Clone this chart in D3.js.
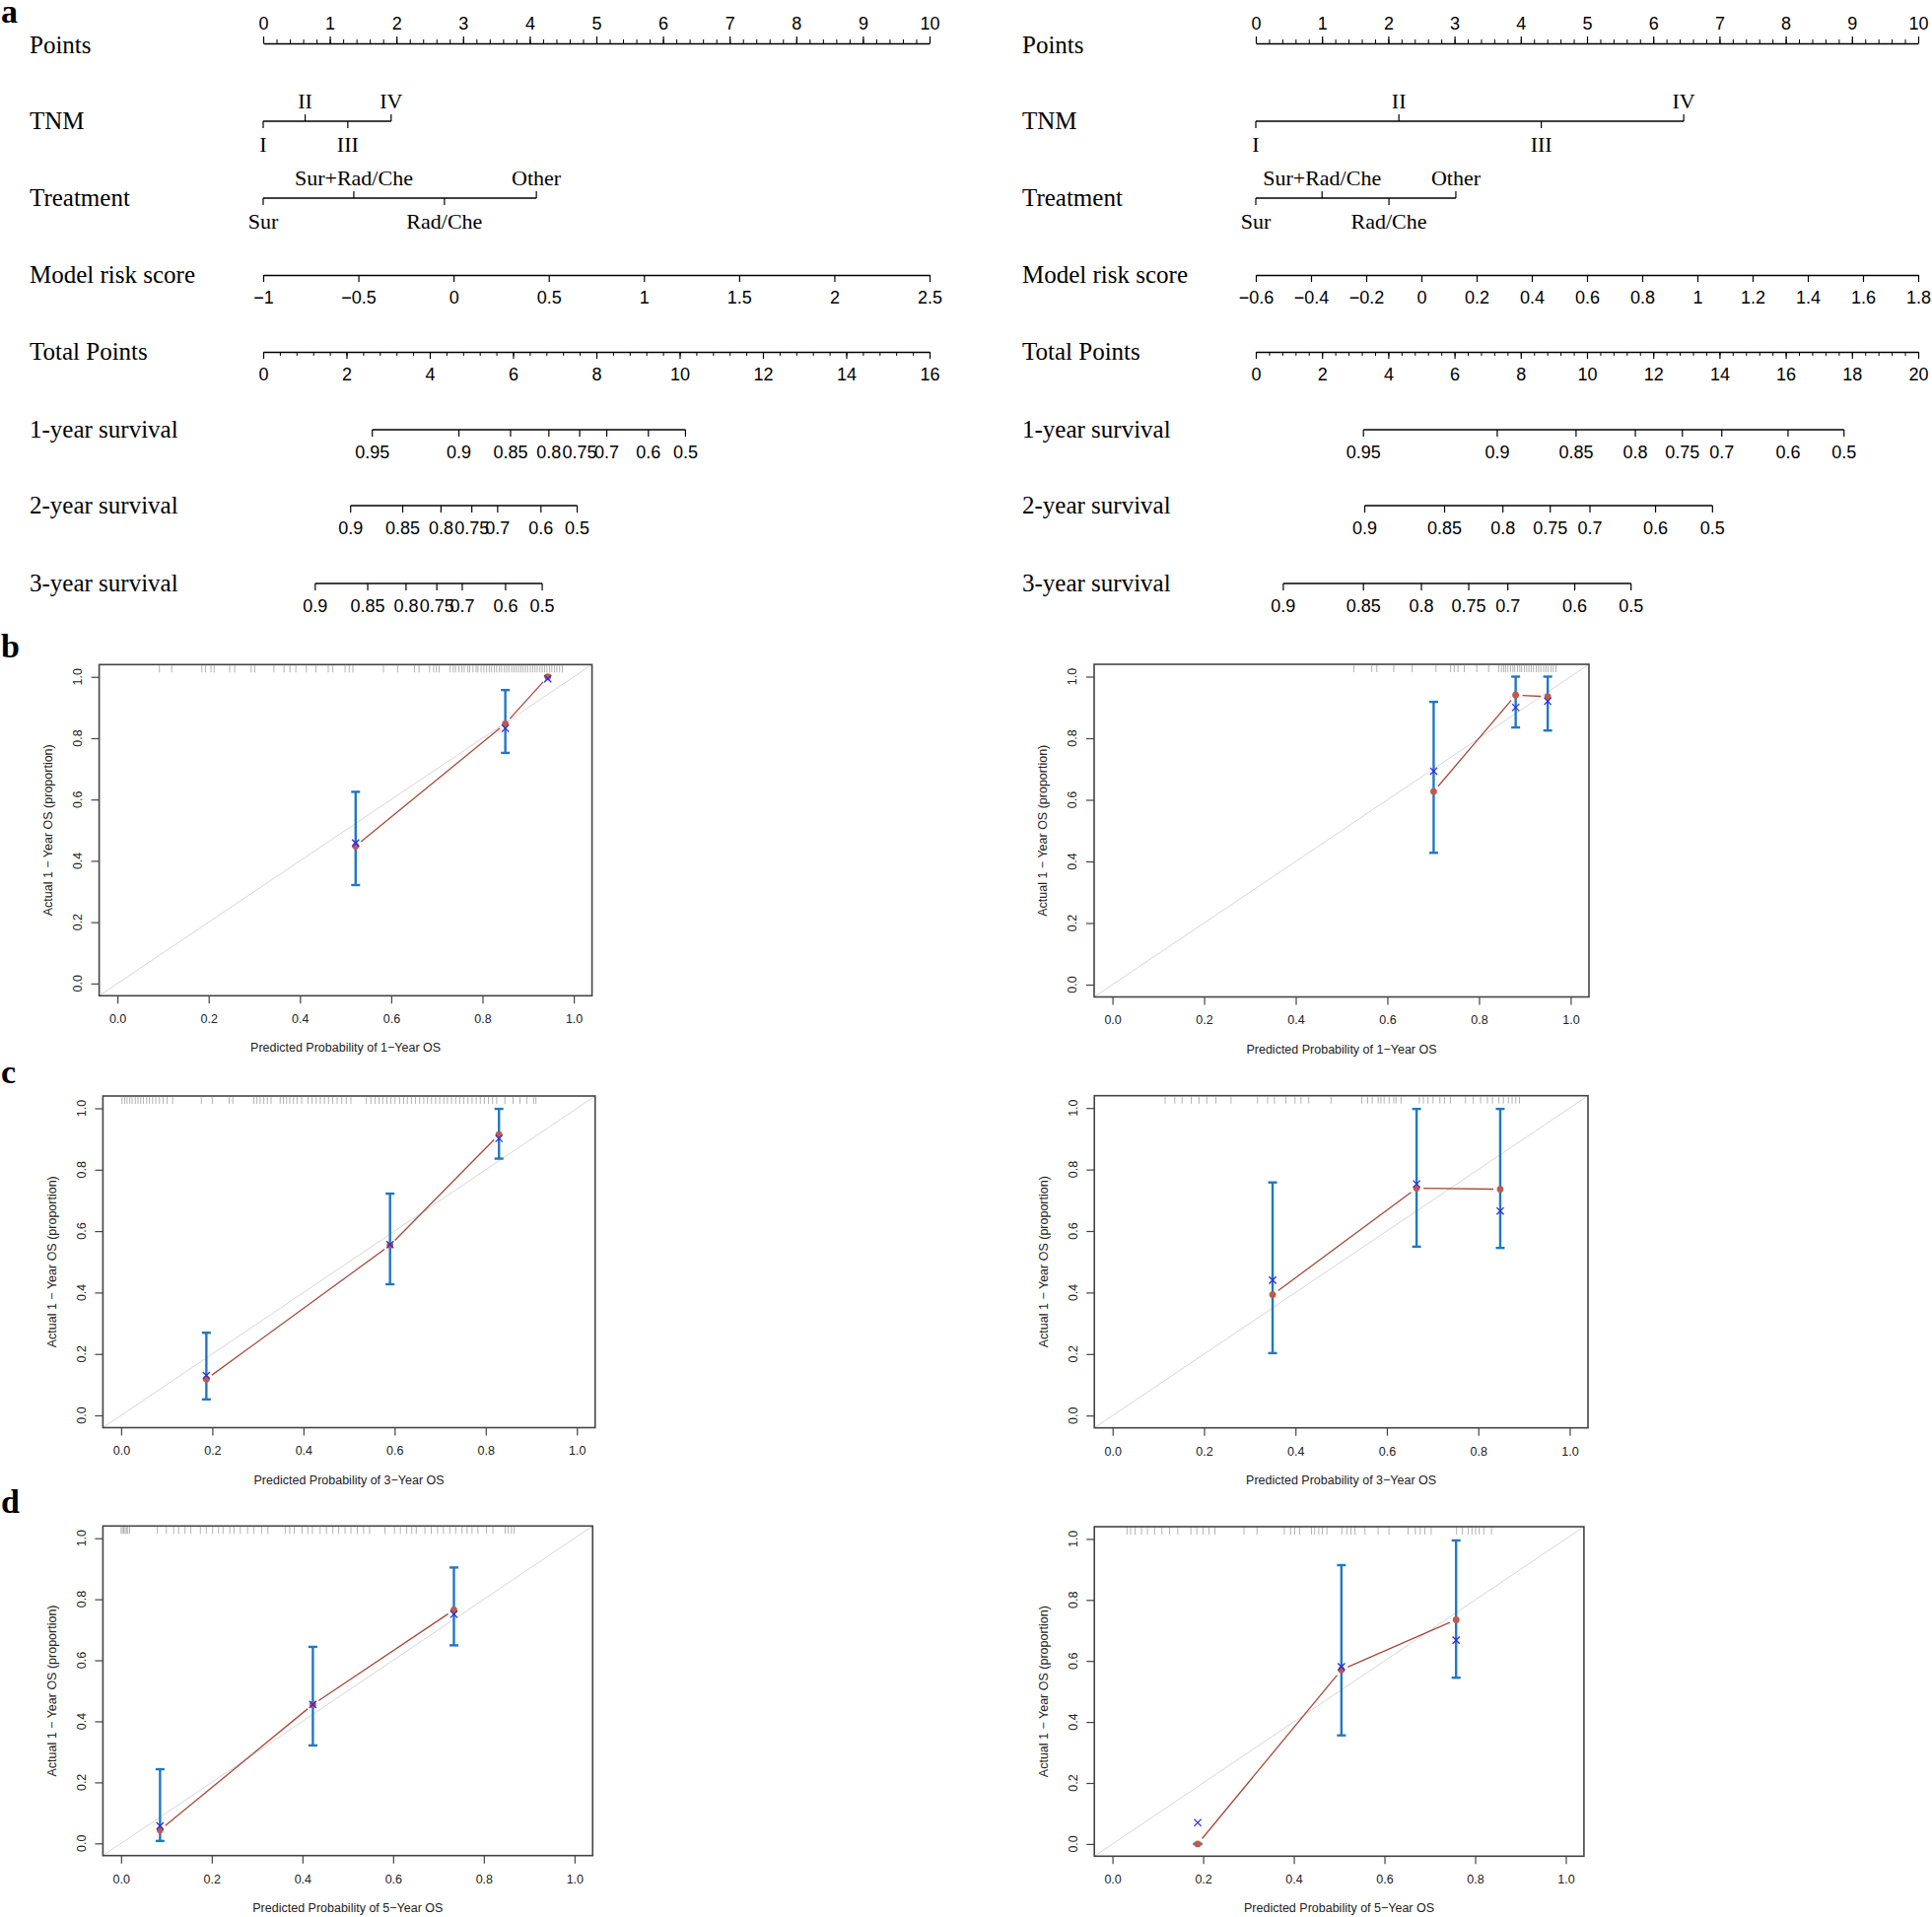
<!DOCTYPE html>
<html><head><meta charset="utf-8">
<script src="https://cdn.jsdelivr.net/npm/d3@7"></script>
<style>body{margin:0;background:#fff}svg{display:block}</style>
</head><body>
<svg id="fig" width="1960" height="1945"></svg>
<script>
// ---------------- Nomogram data ----------------
const pointsTicks = [0,1,2,3,4,5,6,7,8,9,10];
const tnmLevels = ["I","II","III","IV"];
const tnmSide = ["below","above","below","above"];
const treatLevels = ["Sur","Sur+Rad/Che","Rad/Che","Other"];
const treatSide = ["below","above","below","above"];
const survLabels1 = ["0.95","0.9","0.85","0.8","0.75","0.7","0.6","0.5"];
const survLabels23 = ["0.9","0.85","0.8","0.75","0.7","0.6","0.5"];

// left nomogram
const leftTNMPoints = [0,0.63,1.27,1.92];
const leftTreatPoints = [0,1.36,2.72,4.10];
const leftRiskTicks = [-1,-0.5,0,0.5,1,1.5,2,2.5];
const leftRiskLabels = ["\u22121","\u22120.5","0","0.5","1","1.5","2","2.5"];
const leftTotalTicks = [0,2,4,6,8,10,12,14,16];
const leftSurv1 = [2.62,4.70,5.94,6.86,7.60,8.25,9.25,10.14];
const leftSurv2 = [2.10,3.35,4.27,5.01,5.63,6.67,7.54];
const leftSurv3 = [1.25,2.51,3.43,4.17,4.78,5.82,6.70];

// right nomogram
const rightTNMPoints = [0,2.16,4.31,6.46];
const rightTreatPoints = [0,1.00,2.01,3.02];
const rightRiskTicks = [-0.6,-0.4,-0.2,0,0.2,0.4,0.6,0.8,1,1.2,1.4,1.6,1.8];
const rightRiskLabels = ["\u22120.6","\u22120.4","\u22120.2","0","0.2","0.4","0.6","0.8","1","1.2","1.4","1.6","1.8"];
const rightTotalTicks = [0,2,4,6,8,10,12,14,16,18,20];
const rightSurv1 = [3.25,7.29,9.67,11.46,12.88,14.07,16.07,17.76];
const rightSurv2 = [3.29,5.70,7.46,8.89,10.09,12.07,13.79];
const rightSurv3 = [0.83,3.25,5.00,6.43,7.61,9.63,11.33];

// ---------------- Calibration data ----------------
const calTicks = [0,0.2,0.4,0.6,0.8,1.0];
// b: 1-year
const bLPred = [0.522,0.850,0.943], bLObs = [0.448,0.847,1.000], bLCorr = [0.458,0.832,0.994];
const bLLo = [0.321,0.752,null], bLHi = [0.625,0.957,null];
const bRPred = [0.701,0.880,0.950], bRObs = [0.627,0.940,0.935], bRCorr = [0.693,0.900,0.920];
const bRLo = [0.428,0.835,0.825], bRHi = [0.918,1.000,1.000];
// c: 3-year
const cLPred = [0.187,0.590,0.829], cLObs = [0.118,0.554,0.914], cLCorr = [0.130,0.556,0.902];
const cLLo = [0.052,0.427,0.836], cLHi = [0.269,0.722,0.998];
const cRPred = [0.350,0.665,0.848], cRObs = [0.393,0.739,0.736], cRCorr = [0.440,0.753,0.665];
const cRLo = [0.203,0.549,0.545], cRHi = [0.758,0.997,0.997];
// d: 5-year
const dLPred = [0.086,0.423,0.734], dLObs = [0.044,0.455,0.765], dLCorr = [0.057,0.455,0.751];
const dLLo = [0.008,0.321,0.649], dLHi = [0.243,0.644,0.904];
const dRPred = [0.188,0.505,0.758], dRObs = [0.000,0.571,0.735], dRCorr = [0.070,0.581,0.668];
const dRLo = [0.000,0.356,0.545], dRHi = [0.000,0.914,0.995];

// rug (distribution of predicted probabilities)
const rugBL = [0.092,0.119,0.185,0.193,0.205,0.212,0.246,0.257,0.293,0.301,0.343,0.365,0.378,0.391,0.414,0.435,0.462,0.472,0.499,0.508,0.516,0.583,0.614,0.651,0.661,0.684,0.693,0.699,0.705,0.729,0.736,0.741,0.748,0.755,0.760,0.768,0.772,0.779,0.786,0.790,0.797,0.803,0.809,0.815,0.820,0.826,0.831,0.837,0.842,0.848,0.853,0.858,0.864,0.869,0.874,0.879,0.884,0.889,0.894,0.899,0.905,0.910,0.915,0.920,0.926,0.931,0.936,0.941,0.947,0.952,0.958,0.963,0.969,0.975];
const rugBR = [0.527,0.566,0.577,0.614,0.654,0.706,0.738,0.746,0.754,0.768,0.795,0.821,0.843,0.849,0.854,0.858,0.863,0.869,0.874,0.878,0.884,0.889,0.893,0.899,0.904,0.909,0.914,0.919,0.925,0.930,0.935,0.941,0.946,0.951,0.957,0.962,0.968];
const rugCL = [0.002,0.008,0.013,0.019,0.024,0.031,0.037,0.043,0.049,0.056,0.062,0.069,0.076,0.084,0.092,0.101,0.113,0.176,0.200,0.237,0.245,0.291,0.298,0.305,0.313,0.321,0.329,0.349,0.356,0.363,0.370,0.378,0.386,0.396,0.410,0.419,0.428,0.437,0.446,0.455,0.464,0.474,0.484,0.494,0.504,0.538,0.548,0.557,0.566,0.574,0.583,0.592,0.601,0.611,0.620,0.628,0.637,0.646,0.655,0.664,0.672,0.681,0.690,0.699,0.708,0.716,0.725,0.734,0.743,0.752,0.761,0.770,0.779,0.788,0.797,0.806,0.815,0.824,0.842,0.860,0.875,0.890,0.905,0.910];
const rugCR = [0.115,0.136,0.152,0.172,0.189,0.206,0.226,0.259,0.317,0.339,0.354,0.379,0.399,0.412,0.429,0.478,0.545,0.558,0.568,0.581,0.587,0.594,0.605,0.615,0.620,0.631,0.671,0.680,0.690,0.701,0.716,0.726,0.739,0.772,0.789,0.805,0.820,0.831,0.845,0.855,0.866,0.874,0.882,0.890];
const rugDL = [0.000,0.003,0.006,0.009,0.012,0.015,0.019,0.080,0.100,0.116,0.127,0.141,0.154,0.175,0.188,0.202,0.215,0.225,0.240,0.249,0.263,0.279,0.293,0.310,0.324,0.362,0.372,0.382,0.399,0.412,0.422,0.439,0.453,0.467,0.480,0.494,0.507,0.521,0.535,0.548,0.582,0.603,0.616,0.630,0.641,0.651,0.670,0.684,0.698,0.711,0.725,0.738,0.752,0.763,0.774,0.787,0.806,0.820,0.847,0.854,0.861,0.867];
const rugDR = [0.032,0.040,0.050,0.064,0.077,0.093,0.109,0.126,0.144,0.173,0.186,0.200,0.213,0.226,0.290,0.319,0.379,0.393,0.402,0.413,0.439,0.446,0.455,0.463,0.473,0.506,0.517,0.526,0.535,0.557,0.586,0.610,0.652,0.668,0.679,0.689,0.703,0.759,0.772,0.785,0.793,0.801,0.809,0.819,0.836];

// ---------------- Drawing ----------------
const svg = d3.select("#fig");
svg.append("rect").attr("width",1960).attr("height",1945).attr("fill","#fff");
const SERIF = "'Liberation Serif','Times New Roman',Times,serif";
const SANS = "'Liberation Sans',Arial,Helvetica,sans-serif";
const rowY = [44,123,201,279,357,436,513,592];
const rowNames = ["Points","TNM","Treatment","Model risk score","Total Points","1-year survival","2-year survival","3-year survival"];

function styleAxis(g){
  g.select(".domain").attr("stroke","#000").attr("stroke-width",1.6);
  g.selectAll(".tick line").attr("stroke","#000").attr("stroke-width",1.2);
  g.selectAll(".tick text").attr("font-family",SANS).attr("font-size",18).attr("fill","#000");
}

function nomogram(o){
  const g = svg.append("g");
  const pts = d3.scaleLinear().domain([0,10]).range([o.x0,o.x1]);
  const tot = d3.scaleLinear().domain([0,o.totMax]).range([o.x0,o.x1]);
  const risk = d3.scaleLinear().domain([o.riskTicks[0],o.riskTicks[o.riskTicks.length-1]]).range([o.x0,o.x1]);

  rowNames.forEach((n,i)=>{
    g.append("text").attr("x",o.nameX).attr("y",rowY[i]+(i===0?10:8)).text(n)
      .attr("font-family",SERIF).attr("font-size",25).attr("fill","#000");
  });

  // Points axis
  const gp = g.append("g").attr("transform",`translate(0,${rowY[0]})`);
  gp.call(d3.axisTop(pts).tickValues(pointsTicks).tickSize(7).tickSizeOuter(0).tickPadding(7).tickFormat(d3.format("d")));
  styleAxis(gp);
  const gpm = g.append("g").attr("transform",`translate(0,${rowY[0]})`);
  gpm.call(d3.axisTop(pts).tickValues(d3.range(0.2,10,0.2)).tickSize(4).tickSizeOuter(0).tickFormat(""));
  gpm.select(".domain").remove();
  gpm.selectAll(".tick line").attr("stroke","#000").attr("stroke-width",1);

  // categorical rows
  function catRow(y, levels, vals, side){
    g.append("line").attr("x1",pts(d3.min(vals))).attr("x2",pts(d3.max(vals)))
      .attr("y1",y).attr("y2",y).attr("stroke","#000").attr("stroke-width",1.6);
    levels.forEach((lv,i)=>{
      const x = pts(vals[i]);
      const up = side[i]==="above";
      g.append("line").attr("x1",x).attr("x2",x).attr("y1",y).attr("y2",up?y-7:y+7)
        .attr("stroke","#000").attr("stroke-width",1.2);
      g.append("text").attr("x",x).attr("y",up?y-13:y+31).attr("text-anchor","middle")
        .attr("font-family",SERIF).attr("font-size",22).attr("fill","#000").text(lv);
    });
  }
  catRow(rowY[1], tnmLevels, o.tnm, tnmSide);
  catRow(rowY[2], treatLevels, o.treat, treatSide);

  // risk score
  const gr = g.append("g").attr("transform",`translate(0,${rowY[3]})`);
  gr.call(d3.axisBottom(risk).tickValues(o.riskTicks).tickSize(7).tickSizeOuter(0).tickPadding(9)
    .tickFormat((d,i)=>o.riskLabels[i]));
  styleAxis(gr);

  // total points
  const gt = g.append("g").attr("transform",`translate(0,${rowY[4]})`);
  gt.call(d3.axisBottom(tot).tickValues(o.totalTicks).tickSize(7).tickSizeOuter(0).tickPadding(9).tickFormat(d3.format("d")));
  styleAxis(gt);
  const gtm = g.append("g").attr("transform",`translate(0,${rowY[4]})`);
  gtm.call(d3.axisBottom(tot).tickValues(d3.range(0.4,o.totMax,0.4)).tickSize(4).tickSizeOuter(0).tickFormat(""));
  gtm.select(".domain").remove();
  gtm.selectAll(".tick line").attr("stroke","#000").attr("stroke-width",1);

  // survival rows
  function survRow(y, labels, vals){
    g.append("line").attr("x1",tot(d3.min(vals))).attr("x2",tot(d3.max(vals)))
      .attr("y1",y).attr("y2",y).attr("stroke","#000").attr("stroke-width",1.6);
    labels.forEach((lb,i)=>{
      const x = tot(vals[i]);
      g.append("line").attr("x1",x).attr("x2",x).attr("y1",y).attr("y2",y+7)
        .attr("stroke","#000").attr("stroke-width",1.2);
      g.append("text").attr("x",x).attr("y",y+29).attr("text-anchor","middle")
        .attr("font-family",SANS).attr("font-size",18).attr("fill","#000").text(lb);
    });
  }
  survRow(rowY[5], survLabels1, o.s1);
  survRow(rowY[6], survLabels23, o.s2);
  survRow(rowY[7], survLabels23, o.s3);
}

nomogram({x0:267,x1:943,nameX:30,totMax:16,tnm:leftTNMPoints,treat:leftTreatPoints,
  riskTicks:leftRiskTicks,riskLabels:leftRiskLabels,totalTicks:leftTotalTicks,s1:leftSurv1,s2:leftSurv2,s3:leftSurv3});
nomogram({x0:1274,x1:1946,nameX:1037,totMax:20,tnm:rightTNMPoints,treat:rightTreatPoints,
  riskTicks:rightRiskTicks,riskLabels:rightRiskLabels,totalTicks:rightTotalTicks,s1:rightSurv1,s2:rightSurv2,s3:rightSurv3});

// calibration panels
function calPanel(o){
  const g = svg.append("g");
  const [L,T,R,B] = o.box;
  const x = d3.scaleLinear().domain([-0.04,1.04]).range([L,R]);
  const y = d3.scaleLinear().domain([-0.04,1.04]).range([B,T]);

  // rug
  g.selectAll(".rug").data(o.rug).join("line")
    .attr("x1",d=>x(d)).attr("x2",d=>x(d)).attr("y1",T+1).attr("y2",T+8)
    .attr("stroke","#a0a0a0").attr("stroke-width",0.8);
  // ideal line
  g.append("line").attr("x1",x(-0.04)).attr("y1",y(-0.04)).attr("x2",x(1.04)).attr("y2",y(1.04))
    .attr("stroke","#d6d6d6").attr("stroke-width",1);
  // error bars
  o.pred.forEach((p,i)=>{
    if(o.lo[i]==null) return;
    const xx = x(p);
    g.append("line").attr("x1",xx).attr("x2",xx).attr("y1",y(o.lo[i])).attr("y2",y(o.hi[i]))
      .attr("stroke","#1f78c4").attr("stroke-width",2.4);
    [o.lo[i],o.hi[i]].forEach(v=>{
      g.append("line").attr("x1",xx-4.5).attr("x2",xx+4.5).attr("y1",y(v)).attr("y2",y(v))
        .attr("stroke","#1f78c4").attr("stroke-width",2.4);
    });
  });
  // observed line with gaps (type "b")
  for(let i=0;i<o.pred.length-1;i++){
    const xa=x(o.pred[i]), ya=y(o.obs[i]), xb=x(o.pred[i+1]), yb=y(o.obs[i+1]);
    const len=Math.hypot(xb-xa,yb-ya), gap=Math.min(7,len/3);
    const ux=(xb-xa)/len, uy=(yb-ya)/len;
    g.append("line").attr("x1",xa+ux*gap).attr("y1",ya+uy*gap).attr("x2",xb-ux*gap).attr("y2",yb-uy*gap)
      .attr("stroke","#a84a3a").attr("stroke-width",1.3);
  }
  g.selectAll(".obs").data(o.pred).join("circle")
    .attr("cx",d=>x(d)).attr("cy",(d,i)=>y(o.obs[i])).attr("r",3.4).attr("fill","#c05a4a");
  // bias-corrected X
  o.pred.forEach((p,i)=>{
    const cx=x(p), cy=y(o.corr[i]), s=3.6;
    g.append("path").attr("d",`M${cx-s},${cy-s}L${cx+s},${cy+s}M${cx-s},${cy+s}L${cx+s},${cy-s}`)
      .attr("stroke","#2b2be0").attr("stroke-width",1.3).attr("fill","none");
  });
  // box
  g.append("rect").attr("x",L).attr("y",T).attr("width",R-L).attr("height",B-T)
    .attr("fill","none").attr("stroke","#444").attr("stroke-width",1.6);
  // x axis
  const gx = g.append("g").attr("transform",`translate(0,${B})`);
  gx.call(d3.axisBottom(x).tickValues(calTicks).tickSize(8).tickPadding(11).tickFormat(d3.format(".1f")));
  gx.select(".domain").remove();
  gx.selectAll(".tick line").attr("stroke","#444").attr("stroke-width",1.2);
  gx.selectAll(".tick text").attr("font-family",SANS).attr("font-size",12.5).attr("fill","#222");
  // y axis
  const gy = g.append("g").attr("transform",`translate(${L},0)`);
  gy.call(d3.axisLeft(y).tickValues(calTicks).tickSize(8).tickFormat(""));
  gy.select(".domain").remove();
  gy.selectAll(".tick line").attr("stroke","#444").attr("stroke-width",1.2);
  calTicks.forEach(v=>{
    g.append("text").attr("transform",`translate(${L-22},${y(v)}) rotate(-90)`).attr("dy","0.35em")
      .attr("text-anchor","middle").attr("font-family",SANS).attr("font-size",12.5).attr("fill","#222")
      .text(d3.format(".1f")(v));
  });
  g.append("text").attr("transform",`translate(${L-52},${(T+B)/2}) rotate(-90)`).attr("dy","0.35em")
    .attr("text-anchor","middle").attr("font-family",SANS).attr("font-size",12.5).attr("fill","#222")
    .text("Actual 1 \u2212 Year OS (proportion)");
  g.append("text").attr("x",(L+R)/2).attr("y",B+57).attr("text-anchor","middle")
    .attr("font-family",SANS).attr("font-size",12.5).attr("fill","#222").text(o.xTitle);
}

calPanel({box:[100.6,674.3,600.6,1010.3],pred:bLPred,obs:bLObs,corr:bLCorr,lo:bLLo,hi:bLHi,rug:rugBL,xTitle:"Predicted Probability of 1\u2212Year OS"});
calPanel({box:[1110,674,1612,1011.5],pred:bRPred,obs:bRObs,corr:bRCorr,lo:bRLo,hi:bRHi,rug:rugBR,xTitle:"Predicted Probability of 1\u2212Year OS"});
calPanel({box:[104.4,1112,603.75,1448.5],pred:cLPred,obs:cLObs,corr:cLCorr,lo:cLLo,hi:cLHi,rug:rugCL,xTitle:"Predicted Probability of 3\u2212Year OS"});
calPanel({box:[1110.2,1111.7,1611,1448.7],pred:cRPred,obs:cRObs,corr:cRCorr,lo:cRLo,hi:cRHi,rug:rugCR,xTitle:"Predicted Probability of 3\u2212Year OS"});
calPanel({box:[104.4,1548.3,601.25,1882.7],pred:dLPred,obs:dLObs,corr:dLCorr,lo:dLLo,hi:dLHi,rug:rugDL,xTitle:"Predicted Probability of 5\u2212Year OS"});
calPanel({box:[1110.2,1549,1606.9,1883.3],pred:dRPred,obs:dRObs,corr:dRCorr,lo:dRLo,hi:dRHi,rug:rugDR,xTitle:"Predicted Probability of 5\u2212Year OS"});

// panel letters
[["a",23],["b",667],["c",1099],["d",1535]].forEach(([t,yy])=>{
  svg.append("text").attr("x",1).attr("y",yy).text(t)
    .attr("font-family",SERIF).attr("font-weight","bold").attr("font-size",34).attr("fill","#000");
});
</script>
</body></html>
